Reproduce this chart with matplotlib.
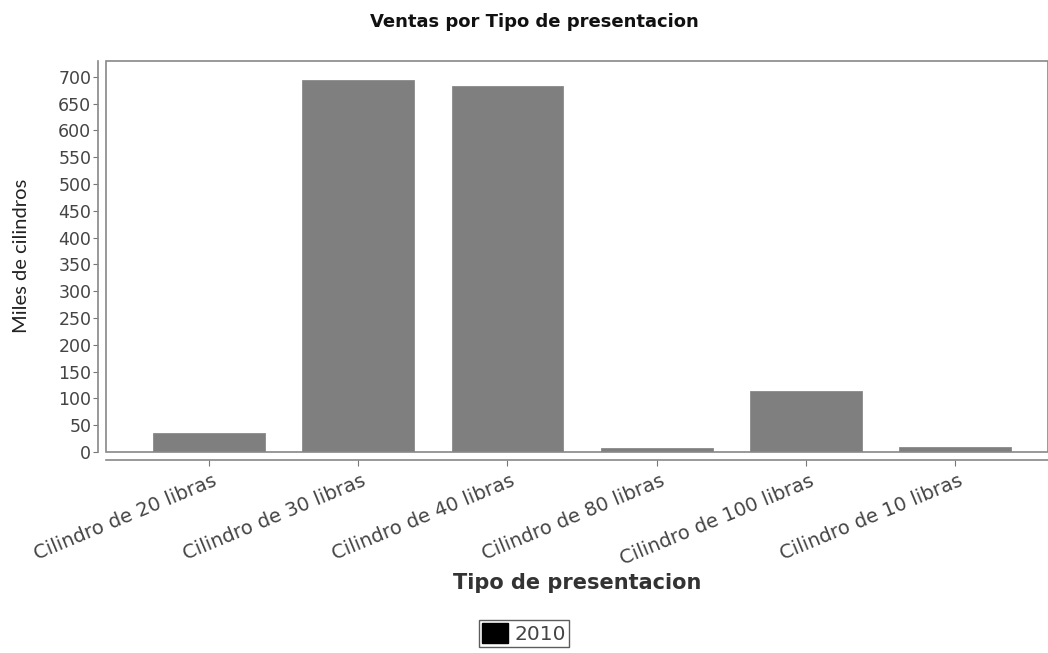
import matplotlib
matplotlib.use("Agg")
import matplotlib.pyplot as plt
import matplotlib.transforms as mtransforms
from matplotlib.patches import Patch, Rectangle

categorias = ["Cilindro de 20 libras", "Cilindro de 30 libras", "Cilindro de 40 libras",
              "Cilindro de 80 libras", "Cilindro de 100 libras", "Cilindro de 10 libras"]
ventas_2010 = [35, 694, 682, 7, 114, 9]
yticks = list(range(0, 701, 50))

fig = plt.figure(figsize=(10.48, 6.53), dpi=100)
ax = fig.add_axes([0.101, 0.308, 0.899, 0.599])

# plot border + detached axis lines (set first: spine positioning resets ticks)
for s in ["top", "right"]:
    ax.spines[s].set_visible(False)
ax.spines["left"].set_position(("outward", 6))
ax.spines["bottom"].set_position(("outward", 6))
for s in ["left", "bottom"]:
    ax.spines[s].set_color("#888888")
    ax.spines[s].set_linewidth(1.2)
ax.add_patch(Rectangle((0, 0), 1, 1, transform=ax.transAxes, fill=False,
                       edgecolor="#888888", linewidth=1.2, clip_on=False, zorder=3))

x = range(len(categorias))
ax.bar(x, ventas_2010, width=0.75, color="#7f7f7f", edgecolor="#8a8a8a", linewidth=0.6, zorder=2)

ax.set_xlim(-0.69, 5.62)
ax.set_ylim(0, 730)
ax.set_yticks(yticks)
ax.set_xticks(list(x))
ax.tick_params(axis="x", pad=4, length=4, color="#777777")
ax.tick_params(axis="y", labelsize=12.5, labelcolor="#444444", length=3.5, color="#777777", pad=1)
ax.set_xticklabels(categorias)
offset = mtransforms.ScaledTranslation(3 / 100, 0, fig.dpi_scale_trans)
for lab in ax.get_xticklabels():
    lab.set_rotation(22.5)
    lab.set_ha("right")
    lab.set_va("top")
    lab.set_rotation_mode("anchor")
    lab.set_fontsize(14)
    lab.set_color("#444444")
    lab.set_transform(lab.get_transform() + offset)

ax.set_ylabel("Miles de cilindros", fontsize=14.5, family="Lato", color="#222222")
ax.yaxis.set_label_coords(-0.08, 0.5)
ax.set_xlabel("Tipo de presentacion", fontsize=15, fontweight="bold", color="#333333")
ax.xaxis.set_label_coords(0.5, -0.31)
fig.text(0.51, 0.966, "Ventas por Tipo de presentacion", ha="center", va="center",
         fontsize=13, fontweight="bold", color="#111111")

fig.legend(handles=[Patch(facecolor="black", edgecolor="black", label="2010")],
           loc="lower center", bbox_to_anchor=(0.5, -0.006), frameon=True, fancybox=False,
           edgecolor="#333333", fontsize=14.5, handlelength=1.3, handleheight=1.1,
           borderpad=0.15, handletextpad=0.3, labelcolor="#444444")

fig.savefig("out.png", dpi=100)
